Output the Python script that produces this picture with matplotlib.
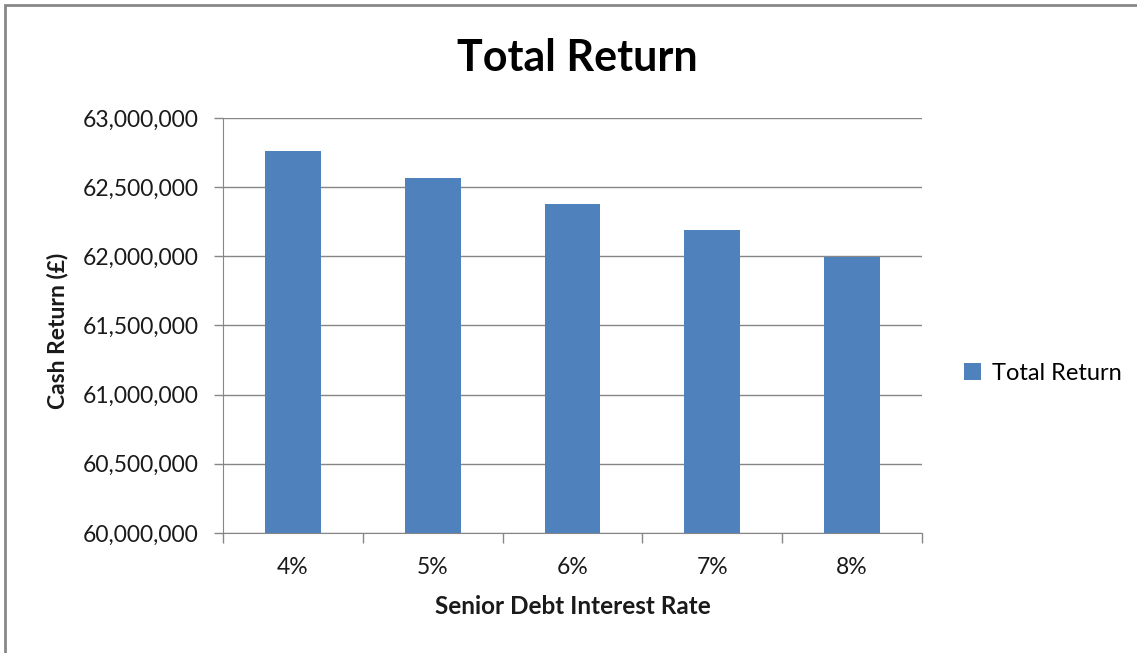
import matplotlib
matplotlib.use('Agg')
import matplotlib.pyplot as plt
from matplotlib.patches import Rectangle
from matplotlib.ticker import FuncFormatter, MultipleLocator

plt.rcParams['font.family'] = ['Lato', 'DejaVu Sans']

# data
rates = ['4%', '5%', '6%', '7%', '8%']
total_return = [62764000, 62568000, 62380000, 62187000, 61998000]

bar_col = '#4F81BD'
grid_col = '#868686'
txt_col = '#1a1a1a'

fig = plt.figure(figsize=(11.37, 6.53), dpi=100)
ax = fig.add_axes([223/1137, 120/653, 699/1137, 415/653])

x = range(len(rates))
ax.bar(x, total_return, width=0.4, color=bar_col, label='Total Return', zorder=3)

ax.set_ylim(60000000, 63000000)
ax.set_xlim(-0.5, len(rates) - 0.5)
ax.yaxis.set_major_locator(MultipleLocator(500000))
ax.yaxis.set_major_formatter(FuncFormatter(lambda v, p: '{:,.0f}'.format(v)))
ax.grid(axis='y', color=grid_col, lw=1, zorder=0)

ax.set_xticks(list(x))
ax.set_xticklabels(rates)
# category boundary ticks like excel
ax.set_xticks([i - 0.5 for i in range(len(rates) + 1)], minor=True)
ax.tick_params(axis='x', which='major', length=0, pad=17, labelsize=16.5, colors=txt_col)
ax.tick_params(axis='x', which='minor', length=7, color=grid_col, width=1)
ax.tick_params(axis='y', length=6.5, color=grid_col, width=1, labelsize=16.5, pad=11, labelcolor=txt_col)

for s in ['top', 'right']:
    ax.spines[s].set_visible(False)
ax.spines['left'].set_color(grid_col)
ax.spines['bottom'].set_color(grid_col)

fig.text(573/1137, 1 - 607/653, 'Senior Debt Interest Rate', ha='center', va='center',
         fontsize=17.5, fontweight='bold', color=txt_col)
fig.text(57/1137, 1 - 331/653, 'Cash Return (£)', ha='center', va='center', rotation=90,
         fontsize=16.5, fontweight='bold', color=txt_col)

fig.text(577/1137, 1 - 58/653, 'Total Return', ha='center', va='center',
         fontsize=31, fontweight='bold')

fig.legend(loc='center left', bbox_to_anchor=(964/1137, 1 - 373/653), frameon=False,
           fontsize=17, handlelength=0.7, handleheight=0.7, handletextpad=0.5,
           borderpad=0, borderaxespad=0)

# outer chart border
fig.patches.append(Rectangle((5/1137, -0.1), 1.2, 1.1 - 5/653, transform=fig.transFigure,
                             fill=False, ec='#888888', lw=2))

fig.savefig('out.png', dpi=100)
